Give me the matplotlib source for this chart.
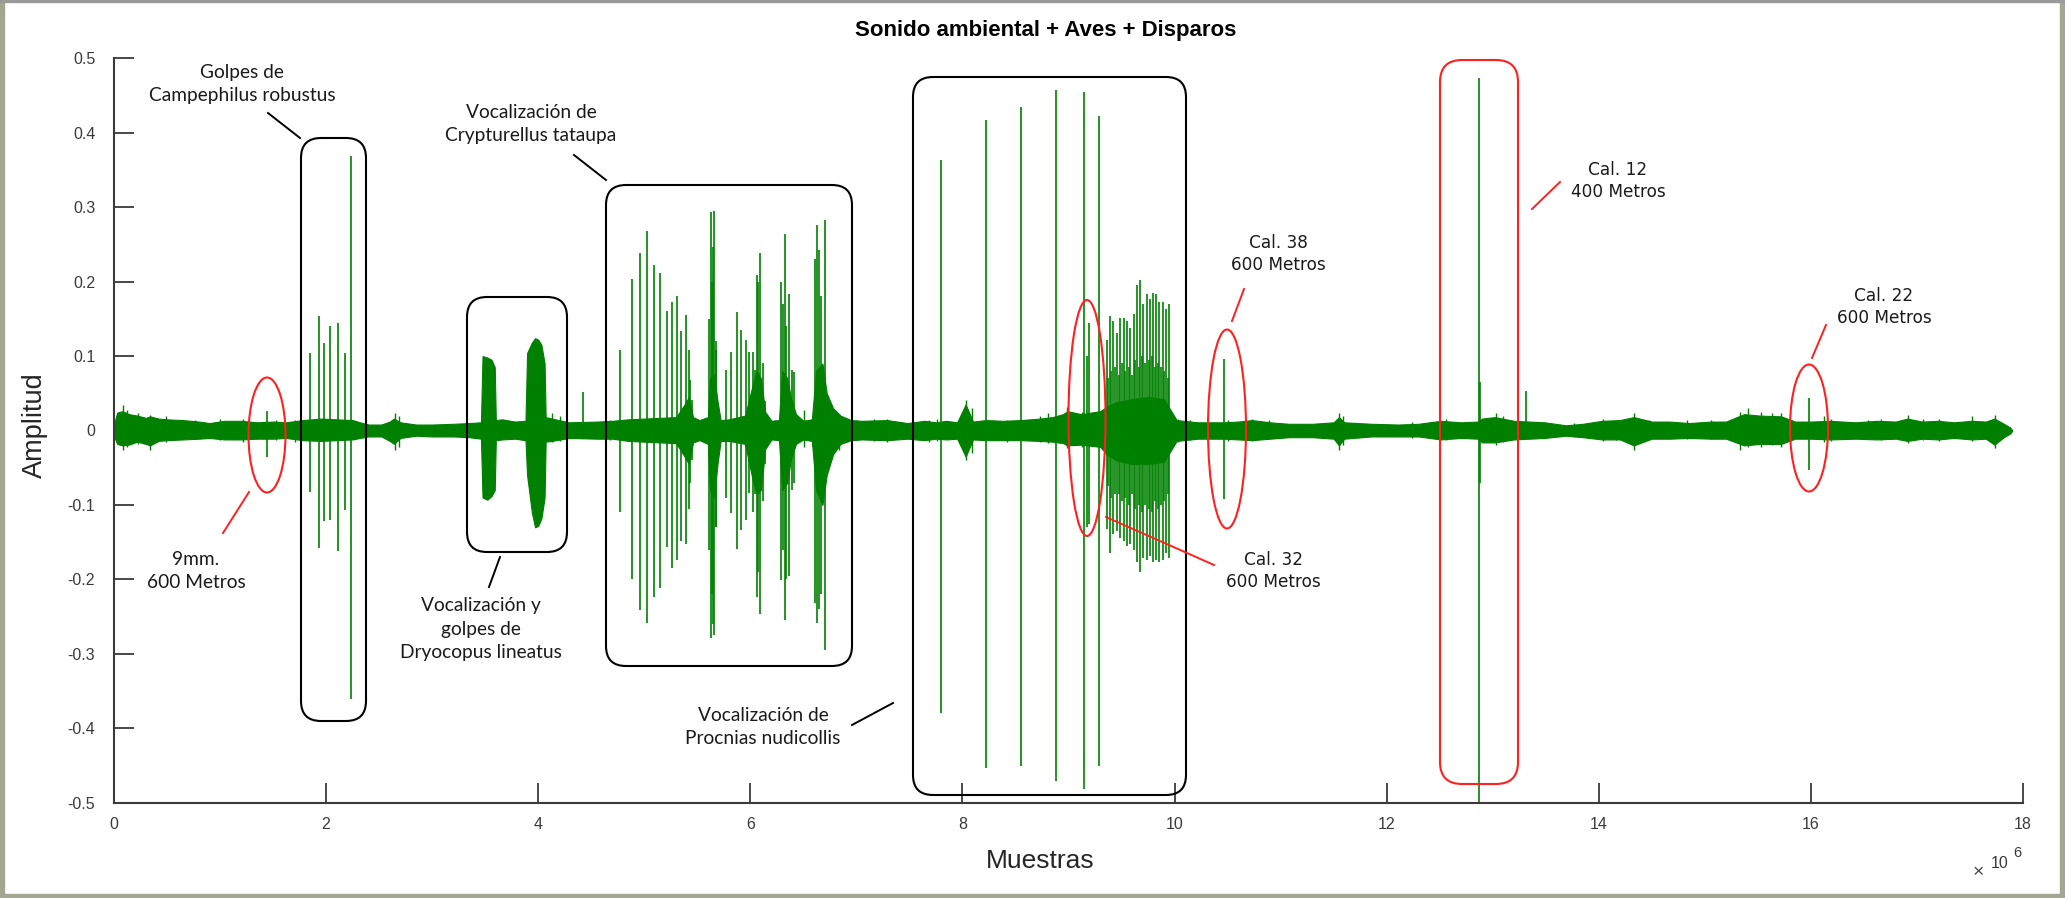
import matplotlib
matplotlib.use("Agg")
import matplotlib.pyplot as plt
from matplotlib.patches import FancyBboxPatch, Ellipse, Rectangle
from matplotlib.lines import Line2D
from matplotlib.transforms import IdentityTransform

plt.rcParams['axes.unicode_minus'] = False

# ---------------- data (x in units of 10^6 samples, y amplitude) ----------------
# background envelope of the recording
noise_x = [0.00, 0.03, 0.08, 0.14, 0.22, 0.30, 0.34, 0.42, 0.50, 0.65, 0.80, 0.90, 1.04, 1.20,
           1.35, 1.50, 1.62, 1.78, 1.95, 2.10, 2.25, 2.32, 2.40, 2.52, 2.60, 2.64, 2.70, 2.85,
           3.00, 3.20, 3.35, 3.46, 3.475, 3.52, 3.56, 3.59, 3.60, 3.66, 3.78, 3.88, 3.895, 3.94,
           3.97, 4.00, 4.03, 4.06, 4.07, 4.13, 4.29, 4.56, 4.70, 4.85, 5.00, 5.15, 5.30, 5.38,
           5.42, 5.46, 5.52, 5.60, 5.62, 5.66, 5.69, 5.72, 5.80, 5.95, 6.02, 6.06, 6.10, 6.14,
           6.20, 6.27, 6.30, 6.35, 6.38, 6.43, 6.50, 6.58, 6.62, 6.68, 6.72, 6.78, 6.85, 6.95,
           7.05, 7.29, 7.48, 7.64, 7.75, 7.85, 7.95, 8.03, 8.10, 8.22, 8.38, 8.55, 8.73, 8.85,
           8.95, 8.99, 9.12, 9.30, 9.36, 9.45, 9.60, 9.75, 9.90, 9.96, 10.02, 10.22, 10.47,
           10.60, 10.73, 10.90, 11.08, 11.30, 11.50, 11.55, 11.60, 11.86, 12.11, 12.30, 12.51,
           12.70, 12.86, 12.90, 13.02, 13.20, 13.49, 13.69, 13.85, 14.03, 14.20, 14.33, 14.50,
           14.67, 14.85, 15.06, 15.20, 15.37, 15.52, 15.72, 15.85, 16.00, 16.18, 16.42, 16.62,
           16.80, 16.91, 17.05, 17.20, 17.35, 17.52, 17.65, 17.73, 17.82, 17.88, 17.90]
noise_hi = [0.008, 0.024, 0.026, 0.022, 0.020, 0.017, 0.019, 0.016, 0.015, 0.014, 0.012, 0.010,
            0.013, 0.013, 0.011, 0.012, 0.011, 0.014, 0.016, 0.015, 0.014, 0.011, 0.008, 0.008,
            0.012, 0.016, 0.011, 0.008, 0.008, 0.009, 0.010, 0.011, 0.100, 0.098, 0.095, 0.085,
            0.014, 0.015, 0.012, 0.013, 0.104, 0.118, 0.124, 0.122, 0.115, 0.090, 0.018, 0.016,
            0.011, 0.012, 0.013, 0.015, 0.016, 0.017, 0.018, 0.035, 0.045, 0.018, 0.014, 0.018,
            0.070, 0.075, 0.040, 0.014, 0.015, 0.020, 0.060, 0.080, 0.070, 0.025, 0.013, 0.014,
            0.080, 0.070, 0.045, 0.022, 0.013, 0.015, 0.080, 0.090, 0.050, 0.030, 0.020, 0.014,
            0.013, 0.014, 0.010, 0.013, 0.011, 0.013, 0.011, 0.035, 0.012, 0.014, 0.013, 0.014,
            0.016, 0.018, 0.022, 0.026, 0.022, 0.026, 0.032, 0.038, 0.042, 0.045, 0.042, 0.028,
            0.014, 0.011, 0.011, 0.012, 0.014, 0.011, 0.009, 0.009, 0.011, 0.018, 0.011, 0.009,
            0.008, 0.009, 0.013, 0.011, 0.012, 0.016, 0.018, 0.013, 0.011, 0.007, 0.009, 0.013,
            0.014, 0.018, 0.012, 0.012, 0.010, 0.012, 0.012, 0.022, 0.020, 0.019, 0.012, 0.012,
            0.013, 0.011, 0.013, 0.012, 0.016, 0.012, 0.013, 0.011, 0.013, 0.012, 0.016, 0.009,
            0.004, 0.000]
noise_lo = [-0.008, -0.018, -0.020, -0.019, -0.015, -0.018, -0.020, -0.014, -0.013, -0.012, -0.011,
            -0.010, -0.012, -0.012, -0.011, -0.011, -0.010, -0.013, -0.014, -0.013, -0.012, -0.010,
            -0.008, -0.008, -0.014, -0.018, -0.010, -0.007, -0.008, -0.008, -0.009, -0.011, -0.090,
            -0.093, -0.088, -0.080, -0.013, -0.012, -0.011, -0.013, -0.060, -0.110, -0.130, -0.128,
            -0.118, -0.090, -0.015, -0.014, -0.010, -0.011, -0.011, -0.014, -0.015, -0.016, -0.017,
            -0.035, -0.045, -0.016, -0.013, -0.018, -0.080, -0.090, -0.045, -0.014, -0.014, -0.018,
            -0.065, -0.085, -0.080, -0.025, -0.012, -0.013, -0.080, -0.070, -0.040, -0.018, -0.012,
            -0.014, -0.080, -0.100, -0.060, -0.032, -0.018, -0.013, -0.012, -0.013, -0.011, -0.013,
            -0.011, -0.012, -0.011, -0.035, -0.012, -0.013, -0.013, -0.013, -0.014, -0.015, -0.017,
            -0.020, -0.019, -0.022, -0.032, -0.040, -0.045, -0.045, -0.042, -0.028, -0.014, -0.011,
            -0.011, -0.012, -0.013, -0.011, -0.009, -0.009, -0.011, -0.020, -0.011, -0.008, -0.008,
            -0.008, -0.012, -0.010, -0.011, -0.016, -0.016, -0.012, -0.010, -0.007, -0.009, -0.012,
            -0.012, -0.020, -0.011, -0.011, -0.010, -0.011, -0.011, -0.020, -0.018, -0.018, -0.011,
            -0.011, -0.012, -0.011, -0.012, -0.011, -0.014, -0.011, -0.012, -0.010, -0.012, -0.011,
            -0.019, -0.009, -0.004, 0.000]

# small bumps on the background
minor_x = [0.083, 0.122, 0.228, 0.338, 0.494, 0.768, 1.003, 1.218, 1.531, 1.707, 2.646, 2.685,
           3.643, 4.132, 4.210, 4.680, 6.23, 6.51, 6.78, 6.84, 7.01, 7.17, 7.29, 7.41, 7.68, 7.76,
           8.03, 8.09, 8.30, 8.42, 8.73, 8.81, 8.99, 9.13, 10.03, 10.15, 10.50, 10.73, 10.89,
           11.55, 11.59, 12.24, 12.56, 12.93, 13.03, 13.10, 13.77, 14.04, 14.16, 14.33, 14.47,
           14.83, 15.06, 15.33, 15.41, 15.53, 15.63, 15.72, 15.82, 16.12, 16.19, 16.54, 16.66,
           16.92, 17.06, 17.21, 17.52, 17.74]
minor_hi = [0.034, 0.027, 0.023, 0.021, 0.019, 0.014, 0.016, 0.016, 0.014, 0.014, 0.023, 0.019,
            0.014, 0.023, 0.019, 0.014, 0.014, 0.027, 0.023, 0.019, 0.014, 0.016, 0.016, 0.012,
            0.014, 0.016, 0.041, 0.030, 0.014, 0.014, 0.019, 0.023, 0.032, 0.025, 0.015, 0.014,
            0.014, 0.016, 0.014, 0.023, 0.019, 0.012, 0.016, 0.014, 0.023, 0.019, 0.010, 0.016,
            0.014, 0.024, 0.014, 0.014, 0.014, 0.025, 0.030, 0.025, 0.023, 0.023, 0.014, 0.019,
            0.016, 0.014, 0.016, 0.021, 0.016, 0.016, 0.019, 0.021]
minor_lo = [-0.026, -0.022, -0.018, -0.026, -0.015, -0.012, -0.013, -0.015, -0.013, -0.015, -0.026,
            -0.022, -0.013, -0.015, -0.014, -0.013, -0.012, -0.022, -0.024, -0.026, -0.013, -0.014,
            -0.016, -0.012, -0.015, -0.014, -0.040, -0.030, -0.013, -0.015, -0.016, -0.017, -0.024,
            -0.022, -0.016, -0.013, -0.014, -0.014, -0.012, -0.026, -0.020, -0.010, -0.013, -0.015,
            -0.020, -0.016, -0.009, -0.014, -0.013, -0.026, -0.012, -0.012, -0.012, -0.026, -0.022,
            -0.022, -0.020, -0.022, -0.013, -0.015, -0.014, -0.012, -0.013, -0.017, -0.013, -0.014,
            -0.014, -0.024]

# clicks, knocks, calls and shots
spike_x = [1.44, 1.85, 1.93, 1.98, 2.04, 2.11, 2.18, 2.23, 4.42,
           4.77, 4.88, 4.96, 5.03, 5.09, 5.15, 5.21, 5.26, 5.31, 5.35, 5.39, 5.42, 5.435, 5.45,
           5.61, 5.63, 5.64, 5.645, 5.66, 5.675, 5.68, 5.77, 5.82, 5.87, 5.91, 5.96, 5.99,
           6.028, 6.044, 6.06, 6.075, 6.09, 6.116, 6.138,
           6.29, 6.31, 6.33, 6.34, 6.36, 6.39, 6.41,
           6.61, 6.63, 6.65, 6.67, 6.70, 6.73,
           7.80, 8.22, 8.55, 8.88, 9.15, 9.17, 9.19, 9.29,
           9.363, 9.387, 9.419, 9.456, 9.488, 9.522, 9.550, 9.582, 9.613, 9.645, 9.676,
           9.707, 9.739, 9.770, 9.801, 9.827, 9.858, 9.889, 9.920, 9.951,
           9.375, 9.403, 9.437, 9.472, 9.505, 9.536, 9.566, 9.598, 9.629, 9.661, 9.692,
           9.723, 9.755, 9.786, 9.814, 9.843, 9.873, 9.905, 9.936,
           10.47, 12.87, 12.88, 13.31, 15.98]
spike_hi = [0.026, 0.104, 0.154, 0.117, 0.140, 0.145, 0.104, 0.369, 0.052,
            0.108, 0.204, 0.238, 0.268, 0.222, 0.212, 0.160, 0.173, 0.181, 0.134, 0.155, 0.108, 0.068, 0.041,
            0.150, 0.294, 0.200, 0.247, 0.295, 0.108, 0.120, 0.081, 0.105, 0.159, 0.135, 0.122, 0.106,
            0.106, 0.081, 0.209, 0.199, 0.238, 0.090, 0.040,
            0.200, 0.170, 0.264, 0.140, 0.184, 0.081, 0.079,
            0.231, 0.276, 0.242, 0.180, 0.283, 0.047,
            0.364, 0.417, 0.435, 0.457, 0.455, 0.100, 0.144, 0.422,
            0.122, 0.154, 0.147, 0.131, 0.151, 0.151, 0.147, 0.138, 0.157, 0.196, 0.202,
            0.170, 0.183, 0.176, 0.185, 0.183, 0.173, 0.173, 0.163, 0.170,
            0.070, 0.080, 0.085, 0.075, 0.090, 0.080, 0.085, 0.075, 0.095, 0.085, 0.100,
            0.090, 0.095, 0.100, 0.085, 0.090, 0.085, 0.080, 0.070,
            0.096, 0.474, 0.065, 0.053, 0.044]
spike_lo = [-0.036, -0.083, -0.158, -0.122, -0.120, -0.162, -0.107, -0.361, -0.012,
            -0.109, -0.199, -0.241, -0.258, -0.223, -0.212, -0.156, -0.185, -0.174, -0.149, -0.152, -0.105, -0.070, -0.040,
            -0.160, -0.279, -0.220, -0.260, -0.275, -0.130, -0.130, -0.091, -0.111, -0.159, -0.134, -0.120, -0.084,
            -0.110, -0.085, -0.223, -0.190, -0.246, -0.095, -0.045,
            -0.201, -0.160, -0.255, -0.200, -0.196, -0.080, -0.071,
            -0.232, -0.259, -0.240, -0.220, -0.295, -0.050,
            -0.380, -0.453, -0.450, -0.471, -0.482, -0.130, -0.126, -0.450,
            -0.132, -0.164, -0.139, -0.135, -0.145, -0.148, -0.155, -0.152, -0.161, -0.177, -0.190,
            -0.171, -0.174, -0.168, -0.177, -0.174, -0.177, -0.174, -0.164, -0.171,
            -0.075, -0.090, -0.085, -0.085, -0.095, -0.090, -0.100, -0.085, -0.105, -0.100, -0.110,
            -0.100, -0.105, -0.110, -0.095, -0.105, -0.100, -0.095, -0.085,
            -0.092, -0.500, -0.070, -0.010, -0.053]

x_ticks = [0, 2, 4, 6, 8, 10, 12, 14, 16, 18]
y_ticks = [-0.5, -0.4, -0.3, -0.2, -0.1, 0.0, 0.1, 0.2, 0.3, 0.4, 0.5]
y_tick_labels = ['-0.5', '-0.4', '-0.3', '-0.2', '-0.1', '0', '0.1', '0.2', '0.3', '0.4', '0.5']

title = 'Sonido ambiental + Aves + Disparos'
xlabel = 'Muestras'
ylabel = 'Amplitud'

# ---------------- figure ----------------
W, H = 2065, 898
GREEN = '#008000'
RED = '#ff2020'
fig = plt.figure(figsize=(W / 100, H / 100), dpi=100)
fig.patch.set_facecolor('white')

ax = fig.add_axes([114 / W, (H - 802.75) / H, (2023 - 114) / W, (802.75 - 58.25) / H])
ax.fill_between(noise_x, noise_lo, noise_hi, color=GREEN, lw=0.8, edgecolor=GREEN, zorder=2)
ax.vlines(minor_x, minor_lo, minor_hi, color=GREEN, lw=1.0, zorder=2)
ax.vlines(spike_x, spike_lo, spike_hi, color=GREEN, lw=1.2, zorder=2)
ax.set_xlim(0, 18)
ax.set_ylim(-0.5, 0.5)
ax.set_xticks(x_ticks)
ax.set_xticklabels([str(v) for v in x_ticks])
ax.set_yticks(y_ticks)
ax.set_yticklabels(y_tick_labels)
for s in ['top', 'right']:
    ax.spines[s].set_visible(False)
for s in ['left', 'bottom']:
    ax.spines[s].set_linewidth(1.5)
    ax.spines[s].set_color('#3a3a3a')
ax.tick_params(direction='in', length=14.5, width=1.3, color='#3a3a3a',
               labelcolor='#3a3a3a', labelsize=11.5)
ax.tick_params(axis='x', pad=10.5)
ax.tick_params(axis='y', pad=13.5)
for lab in ax.get_xticklabels() + ax.get_yticklabels():
    lab.set_fontfamily('Liberation Sans')

# ---------------- texts (pixel helpers) ----------------
def fx(px):
    return px / W

def fy(py):
    return 1 - py / H

fig.text(fx(1046), fy(36), title, ha='center', va='baseline', fontsize=16,
         fontweight='bold', family='Liberation Sans', color='black')
fig.text(fx(1040), fy(868), xlabel, ha='center', va='baseline', fontsize=19,
         family='Liberation Sans', color='#262626')
fig.text(fx(35), fy(425), ylabel, ha='center', va='center', rotation=90, fontsize=19.5,
         family='Liberation Sans', color='#262626')
fig.text(fx(1978), fy(873), '×', ha='center', va='center', fontsize=14,
         family='Liberation Sans', color='#4a4a4a')
fig.text(fx(2000), fy(864), '10', ha='center', va='center', fontsize=11.5,
         family='Liberation Sans', color='#3a3a3a')
fig.text(fx(2017), fy(853), '6', ha='center', va='center', fontsize=10.5,
         family='Liberation Sans', color='#3a3a3a')

ID = IdentityTransform()

def rbox(x0, y0, x1, y1, color, r):
    p = FancyBboxPatch((x0 + r, H - y1 + r), (x1 - x0) - 2 * r, (y1 - y0) - 2 * r,
                       boxstyle='round,pad=%f' % r, transform=ID, fill=False,
                       edgecolor=color, lw=1.5, zorder=5)
    fig.add_artist(p)

def ell(cx, cy, w, h):
    e = Ellipse((cx, H - cy), w, h, transform=ID, fill=False, edgecolor=RED, lw=1.5, zorder=5)
    fig.add_artist(e)

def seg(x0, y0, x1, y1, color):
    fig.add_artist(Line2D([x0, x1], [H - y0, H - y1], transform=ID, color=color, lw=1.4, zorder=5))

ANN = 'Lato'
def label(cx, cy, s, fam=ANN, size=13.8, ls=1.45):
    fig.text(fx(cx), fy(cy), s, ha='center', va='center', fontsize=size, family=fam,
             color='#1a1a1a', linespacing=ls)

# black boxes
rbox(301, 138, 366, 721, 'black', 20)
rbox(467, 297, 567, 552, 'black', 20)
rbox(606, 185, 852, 666, 'black', 20)
rbox(913, 77, 1186, 795, 'black', 20)
# red box
rbox(1440, 60, 1518, 784, RED, 22)
# red ellipses
ell(267, 435, 37, 115)
ell(1087, 418, 37, 236)
ell(1227, 429, 38, 199)
ell(1809, 428, 38, 127)

# leader lines
seg(249, 492, 223, 533, RED)
seg(268, 113, 300, 138, 'black')
seg(500, 557, 489, 587, 'black')
seg(574, 155, 606, 180, 'black')
seg(852, 725, 893, 703, 'black')
seg(1106, 517, 1214, 565, RED)
seg(1244, 289, 1232, 321, RED)
seg(1560, 182, 1532, 209, RED)
seg(1826, 325, 1812, 358, RED)

label(196, 571, '9mm.\n600 Metros')
label(242, 84, 'Golpes de\nCampephilus robustus')
label(481, 629, 'Vocalización y\ngolpes de\nDryocopus lineatus')
label(531, 124, 'Vocalización de\nCrypturellus tataupa')
label(763, 727, 'Vocalización de\nProcnias nudicollis')
label(1273, 571, 'Cal. 32\n600 Metros', fam='DejaVu Sans', size=12.2, ls=1.3)
label(1278, 254, 'Cal. 38\n600 Metros', fam='DejaVu Sans', size=12.2, ls=1.3)
label(1618, 181, 'Cal. 12\n400 Metros', fam='DejaVu Sans', size=12.2, ls=1.3)
label(1884, 307, 'Cal. 22\n600 Metros', fam='DejaVu Sans', size=12.2, ls=1.3)

# outer frame of the screenshot
BORDER = '#a5a692'
fig.add_artist(Rectangle((0, 0), 4, H, transform=ID, color=BORDER, zorder=10))
fig.add_artist(Rectangle((W - 5, 0), 5, H, transform=ID, color=BORDER, zorder=10))
fig.add_artist(Rectangle((0, 0), W, 4, transform=ID, color=BORDER, zorder=10))
fig.add_artist(Rectangle((0, H - 2), W, 2, transform=ID, color='#9a9a9a', zorder=10))

fig.savefig('out.png', dpi=100, facecolor='white')
